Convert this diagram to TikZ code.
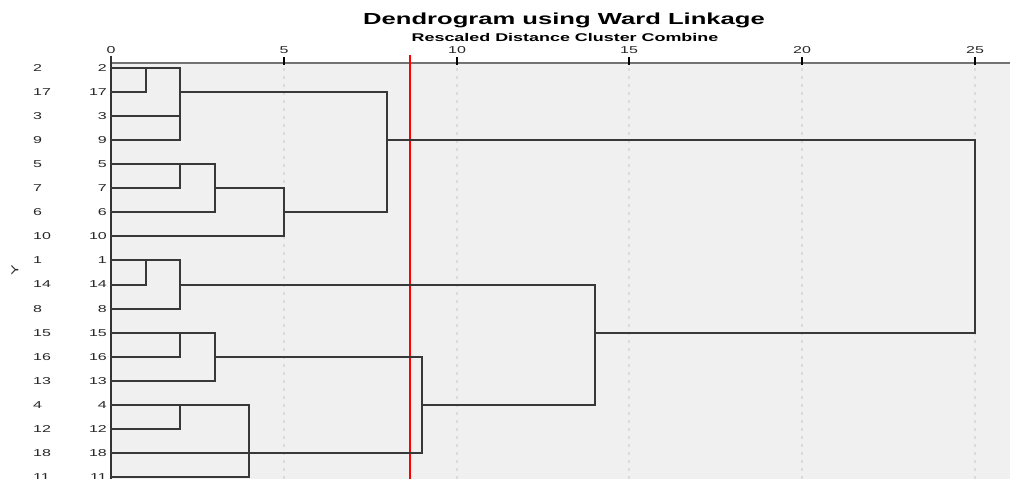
\documentclass[tikz,border=0pt]{standalone}
\usepackage{fontspec}
\usetikzlibrary{calc}
\newfontfamily\chartfont[FakeStretch=1.6]{Liberation Sans}
\begin{document}
\begin{tikzpicture}[x=1pt,y=-1pt,
  link/.style={draw=black!78,line width=1.8pt,line cap=rect},
  rowlab/.style={font=\chartfont\fontsize{10}{11}\selectfont,text=black!85,inner sep=0pt},
  ticklab/.style={font=\chartfont\fontsize{10}{11}\selectfont,text=black!85,inner sep=0pt},
  gridline/.style={draw=black!14,line width=2pt,dash pattern=on 3pt off 5pt},
  tickmark/.style={draw=black,line width=2pt}]
\useasboundingbox (0,0) rectangle (1010,479);
\clip (0,0) rectangle (1010,479);

% plotting area
\fill[black!6] (111,63) rectangle (1010,479);

% distance columns, snapped to whole units
\foreach \d in {0,1,2,3,4,5,8,9,10,14,15,20,25}
  \coordinate (d\d) at ({round(111+34.56*\d)},63);

% grid lines
\foreach \d in {5,10,15,20,25}
  \draw[gridline] (d\d) ++(0,5) -- ++(0,420);

% title
\node[font=\chartfont\bfseries\fontsize{16}{17}\selectfont,inner sep=0pt] (title) at (564,20) {Dendrogram using Ward Linkage};
\node[font=\chartfont\bfseries\fontsize{11.2}{12}\selectfont,inner sep=0pt] (subtitle) at (565,37.5) {Rescaled Distance Cluster Combine};

% axis
\draw[draw=black!55,line width=1.5pt] (d0) -- (1010,63);
\foreach \d in {0,5,10,15,20,25}{
  \draw[tickmark] (d\d) ++(0,-6) -- ++(0,8);
  \node[ticklab] (t\d) at ($(d\d)+(0,-13)$) {\d};
}

% red reference line
\coordinate (redtop) at (410,55);
\coordinate (redbot) at (410,479);
\draw[red,line width=2pt] (redtop) -- (redbot);

% left axis
\draw[draw=black!80,line width=2pt] (111,56) -- (111,479);

% leaves
\foreach \lab [count=\i from 0] in {2,17,3,9,5,7,6,10,1,14,8,15,16,13,4,12,18,11}{
  \coordinate (L\lab) at (111,{round(68+24.06*\i)});
  \node[rowlab,anchor=east] (in\lab) at (107,{68+24.06*\i}) {\lab};
  \node[rowlab,anchor=west] (out\lab) at (33,{68+24.06*\i}) {\lab};
}
\node[rowlab,rotate=90] (ylab) at (15,270) {Y};

% cluster 2,17,3,9
\draw[link] (L2) -- (L2 -| d2);
\draw[link] (L17) -| (L2 -| d1);
\draw[link] (L3) -- (L3 -| d2);
\draw[link] (L9) -| (L2 -| d2);
\draw[link] (L17 -| d2) -- (L17 -| d8);
% cluster 5,7,6,10
\draw[link] (L5) -- (L5 -| d3);
\draw[link] (L7) -| (L5 -| d2);
\draw[link] (L6) -| (L5 -| d3);
\draw[link] (L7 -| d3) -- (L7 -| d5);
\draw[link] (L10) -| (L7 -| d5);
\draw[link] (L6 -| d5) -- (L6 -| d8);
\draw[link] (L17 -| d8) -- (L6 -| d8);
\draw[link] (L9 -| d8) -- (L9 -| d25);
% cluster 1,14,8
\draw[link] (L1) -- (L1 -| d2);
\draw[link] (L14) -| (L1 -| d1);
\draw[link] (L8) -| (L1 -| d2);
\draw[link] (L14 -| d2) -- (L14 -| d14);
% cluster 15,16,13
\draw[link] (L15) -- (L15 -| d3);
\draw[link] (L16) -| (L15 -| d2);
\draw[link] (L13) -| (L15 -| d3);
\draw[link] (L16 -| d3) -- (L16 -| d9);
% cluster 4,12,18,11
\draw[link] (L4) -- (L4 -| d4);
\draw[link] (L12) -| (L4 -| d2);
\draw[link] (L11) -| (L4 -| d4);
\draw[link] (L18) -- (L18 -| d9);
\draw[link] (L16 -| d9) -- (L18 -| d9);
\draw[link] (L4 -| d9) -- (L4 -| d14);
\draw[link] (L14 -| d14) -- (L4 -| d14);
\draw[link] (L15 -| d14) -- (L15 -| d25);
\draw[link] (L9 -| d25) -- (L15 -| d25);
\end{tikzpicture}
\end{document}
